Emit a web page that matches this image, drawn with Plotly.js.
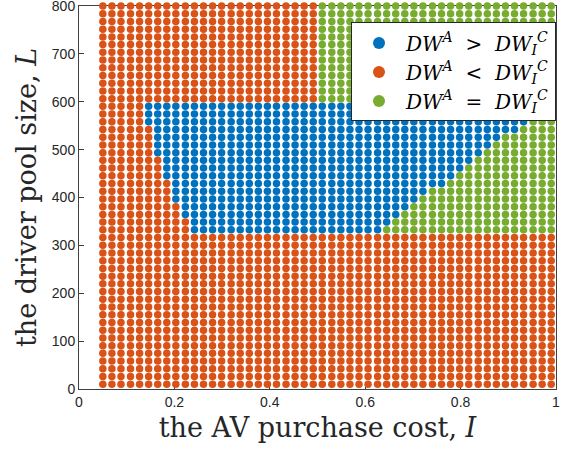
<!DOCTYPE html>
<html>
<head>
<meta charset="utf-8">
<script src="https://cdn.plot.ly/plotly-3.0.1.min.js"></script>
<style>html,body{margin:0;padding:0;background:#fff;}#chart{width:569px;height:451px;}</style>
</head>
<body>
<div id="chart"></div>
<script>
// Grid of AV purchase cost values (x)
const costI = [0.050,0.069,0.088,0.108,0.127,0.146,0.165,0.184,0.203,0.223,
  0.242,0.261,0.280,0.299,0.319,0.338,0.357,0.376,0.395,0.414,
  0.434,0.453,0.472,0.491,0.510,0.530,0.549,0.568,0.587,0.606,
  0.626,0.645,0.664,0.683,0.702,0.721,0.741,0.760,0.779,0.798,
  0.817,0.837,0.856,0.875,0.894,0.913,0.932,0.952,0.971,0.990];
// Grid of driver pool sizes (y)
const poolL = [10.0,26.1,42.2,58.4,74.5,90.6,106.7,122.9,139.0,155.1,
  171.2,187.3,203.5,219.6,235.7,251.8,268.0,284.1,300.2,316.3,
  332.4,348.6,364.7,380.8,396.9,413.1,429.2,445.3,461.4,477.6,
  493.7,509.8,525.9,542.0,558.2,574.3,590.4,606.5,622.7,638.8,
  654.9,671.0,687.1,703.3,719.4,735.5,751.6,767.8,783.9,800.0];
// Outcome per row (bottom to top), run-length coded along the cost grid:
// B = DW^A > DW_I^C, R = DW^A < DW_I^C, G = DW^A = DW_I^C
const rowOutcome = [
  "R50","R50","R50","R50","R50","R50","R50","R50","R50","R50",
  "R50","R50","R50","R50","R50","R50","R50","R50","R50","R50",
  "R10 B21 G19","R10 B22 G18","R9 B24 G17","R9 B25 G16","R8 B27 G15",
  "R8 B28 G14","R8 B30 G12","R7 B32 G11","R7 B33 G10","R7 B34 G9",
  "R6 B36 G8","R6 B37 G7","R6 B38 G6","R6 B40 G4","R5 B42 G3",
  "R5 B43 G2","R5 B44 G1",
  "R24 G26","R24 G26","R24 G26","R24 G26","R24 G26","R24 G26","R24 G26",
  "R24 G26","R24 G26","R24 G26","R24 G26","R24 G26","R24 G26"];
const seriesNames = {
  B: "<i>DW</i><sup><i>A</i></sup>&nbsp; &gt; &nbsp;<i>DW</i><sub><i>I</i></sub><sup><i>C</i></sup>",
  R: "<i>DW</i><sup><i>A</i></sup>&nbsp; &lt; &nbsp;<i>DW</i><sub><i>I</i></sub><sup><i>C</i></sup>",
  G: "<i>DW</i><sup><i>A</i></sup>&nbsp; = &nbsp;<i>DW</i><sub><i>I</i></sub><sup><i>C</i></sup>"
};
const seriesColors = {B: "#0072BD", R: "#D95319", G: "#77AC30"};

const pts = {B: {x: [], y: []}, R: {x: [], y: []}, G: {x: [], y: []}};
rowOutcome.forEach((code, j) => {
  let i = 0;
  code.split(" ").forEach(seg => {
    const k = seg[0], n = parseInt(seg.slice(1), 10);
    for (let c = 0; c < n; c++, i++) {
      pts[k].x.push(costI[i]);
      pts[k].y.push(poolL[j]);
    }
  });
});

const traces = ["B", "R", "G"].map(k => ({
  type: "scatter", mode: "markers", x: pts[k].x, y: pts[k].y,
  name: seriesNames[k], cliponaxis: false,
  marker: {color: seriesColors[k], size: 7.5, line: {width: 0}}
}));

const axisCommon = {
  showgrid: false, zeroline: false, showline: true, mirror: true, layer: "below traces",
  linecolor: "#404040", linewidth: 1, ticks: "inside", ticklen: 5,
  tickcolor: "#404040", ticklabeloverflow: "allow",
  tickfont: {family: "Liberation Sans, Arial", size: 14, color: "#262626"}
};
const titleFont = {family: "DejaVu Serif, serif", size: 27, color: "#262626"};
const layout = {
  width: 569, height: 451,
  margin: {l: 79, r: 13, t: 6, b: 62},
  paper_bgcolor: "#fff", plot_bgcolor: "#fff",
  showlegend: true,
  xaxis: Object.assign({}, axisCommon, {
    range: [0, 1], tickvals: [0, 0.2, 0.4, 0.6, 0.8, 1], ticktext: ["0", "0.2", "0.4", "0.6", "0.8", "1"],
    title: {text: "the AV purchase cost, <i>I</i>", font: titleFont, standoff: 9}
  }),
  yaxis: Object.assign({}, axisCommon, {
    range: [0, 800], tickvals: [0, 100, 200, 300, 400, 500, 600, 700, 800],
    title: {text: "the driver pool size, <i>L</i>", font: titleFont, standoff: 7}
  }),
  legend: {
    x: 1, xanchor: "right", y: 0.957, yanchor: "top",
    bgcolor: "#fff", bordercolor: "#262626", borderwidth: 1,
    font: {family: "DejaVu Serif, serif", size: 20, color: "#000"},
    itemsizing: "constant", itemwidth: 44, tracegroupgap: 0
  }
};
Plotly.newPlot("chart", traces, layout, {displayModeBar: false, staticPlot: true});
</script>
</body>
</html>
